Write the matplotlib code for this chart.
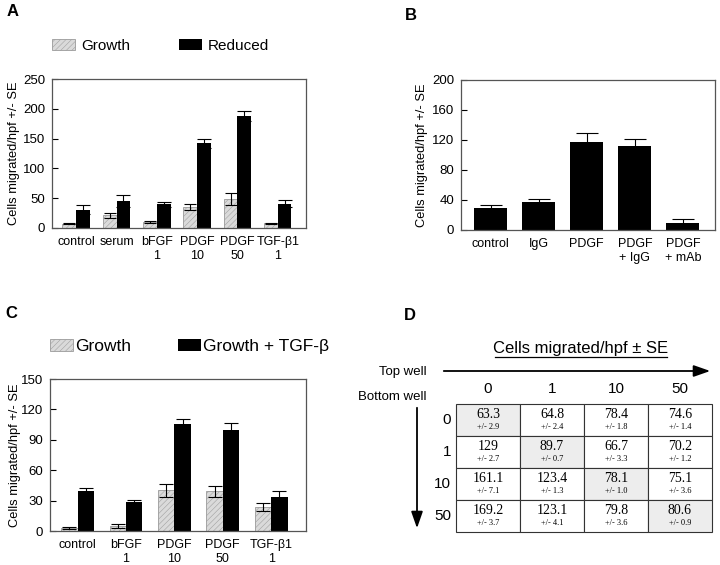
import numpy as np
import matplotlib
matplotlib.use('Agg')
import matplotlib.pyplot as plt
from matplotlib.patches import Rectangle
from matplotlib import font_manager

plt.rcParams['font.family'] = ['Liberation Sans', 'DejaVu Sans']

#data---panel A-----------------------------------------------------------------
a_labels = ['control', 'serum', 'bFGF\n1', 'PDGF\n10', 'PDGF\n50', 'TGF-β1\n1']
a_growth = [7, 21, 10, 36, 49, 8]
a_growth_err = [1, 4, 1, 5, 10, 1]
a_reduced = [31, 46, 40, 142, 188, 41]
a_reduced_err = [8, 10, 4, 8, 9, 6]

#data---panel B-----------------------------------------------------------------
b_labels = ['control', 'IgG', 'PDGF', 'PDGF\n+ IgG', 'PDGF\n+ mAb']
b_vals = [30, 37, 118, 112, 10]
b_err = [4, 5, 11, 10, 5]

#data---panel C-----------------------------------------------------------------
c_labels = ['control', 'bFGF\n1', 'PDGF\n10', 'PDGF\n50', 'TGF-β1\n1']
c_growth = [3, 5, 40, 39, 24]
c_growth_err = [1, 2, 6, 5, 4]
c_tgf = [39, 29, 106, 100, 34]
c_tgf_err = [3, 2, 5, 7, 5]

#data---panel D-----------------------------------------------------------------
d_wells = ['0', '1', '10', '50']
d_vals = [[63.3, 64.8, 78.4, 74.6],
          [129, 89.7, 66.7, 70.2],
          [161.1, 123.4, 78.1, 75.1],
          [169.2, 123.1, 79.8, 80.6]]
d_errs = [['2.9', '2.4', '1.8', '1.4'],
          ['2.7', '0.7', '3.3', '1.2'],
          ['7.1', '1.3', '1.0', '3.6'],
          ['3.7', '4.1', '3.6', '0.9']]

ylab = 'Cells migrated/hpf +/- SE'
# narrow font for the long y labels if there is one
names = {f.name for f in font_manager.fontManager.ttflist}
if 'Liberation Sans Narrow' in names:
    ylab_font = dict(family='Liberation Sans Narrow', fontsize=11)
else:
    ylab_font = dict(family='Liberation Sans', fontsize=9.3)

hatch_kw = dict(color='#dadada', hatch='//////', edgecolor='#9a9a9a', linewidth=0.6)
err_kw = dict(ecolor='black', elinewidth=0.8, capthick=0.8)
plt.rcParams['hatch.linewidth'] = 0.35

fig = plt.figure(figsize=(7.2, 5.65), dpi=100)

def style(ax, ymax, step, xlim):
    ax.set_xlim(*xlim)
    ax.set_ylim(0, ymax)
    ax.set_yticks(np.arange(0, ymax + 1, step))
    ax.tick_params(axis='y', direction='in', length=4, width=0.8, labelsize=9.5, pad=5)
    ax.tick_params(axis='x', length=0, labelsize=9, pad=6)
    for s in ax.spines.values():
        s.set_linewidth(0.9)
        s.set_color('#555555')
    ax.set_ylabel(ylab, **ylab_font)

#plot---A-----------------------------------------------------------------------
axA = fig.add_axes([52/720, 1-228/565, 254/720, 149/565])
x = np.arange(len(a_labels))
w = 0.34
hA1 = axA.bar(x - w/2, a_growth, w, yerr=a_growth_err, capsize=4, error_kw=err_kw, label='Growth', **hatch_kw)
hA2 = axA.bar(x + w/2, a_reduced, w, yerr=a_reduced_err, capsize=5, error_kw=err_kw, color='black', label='Reduced')
axA.set_xticks(x)
axA.set_xticklabels(a_labels)
style(axA, 250, 50, (-0.6, 5.7))
axA.yaxis.set_label_coords(-0.127, 0.5)
axA.legend(handles=[hA1, hA2], loc='center left', bbox_to_anchor=(0.0, 1.22), ncol=2, frameon=False,
           fontsize=11, handlelength=1.5, handleheight=0.75, handletextpad=0.4, columnspacing=3.2,
           borderpad=0, borderaxespad=0)
fig.text(7/720, 1-12/565, 'A', fontsize=12, fontweight='bold', va='center')

#plot---B-----------------------------------------------------------------------
axB = fig.add_axes([461/720, 1-230/565, 254/720, 150/565])
x = np.arange(len(b_labels))
axB.bar(x, b_vals, 0.69, yerr=b_err, capsize=8, error_kw=err_kw, color='black')
axB.set_xticks(x)
axB.set_xticklabels(b_labels)
style(axB, 200, 40, (-0.62, 4.67))
axB.yaxis.set_label_coords(-0.128, 0.5)
fig.text(405/720, 1-16/565, 'B', fontsize=12, fontweight='bold', va='center')

#plot---C-----------------------------------------------------------------------
axC = fig.add_axes([50/720, 1-531/565, 256/720, 152/565])
x = np.arange(len(c_labels))
hC1 = axC.bar(x - w/2, c_growth, w, yerr=c_growth_err, capsize=5, error_kw=err_kw, label='Growth', **hatch_kw)
hC2 = axC.bar(x + w/2, c_tgf, w, yerr=c_tgf_err, capsize=5, error_kw=err_kw, color='black', label='Growth + TGF-β')
axC.set_xticks(x)
axC.set_xticklabels(c_labels)
style(axC, 150, 30, (-0.57, 4.72))
axC.yaxis.set_label_coords(-0.115, 0.5)
axC.legend(handles=[hC1, hC2], loc='center left', bbox_to_anchor=(0.0, 1.215), ncol=2, frameon=False,
           fontsize=12.5, handlelength=1.3, handleheight=0.7, handletextpad=0.15, columnspacing=2.7,
           borderpad=0, borderaxespad=0)
fig.text(5/720, 1-313/565, 'C', fontsize=12, fontweight='bold', va='center')

#plot---D (table)---------------------------------------------------------------
axD = fig.add_axes([360/720, 0, 360/720, 290/565])
axD.set_xlim(360, 720)
axD.set_ylim(565, 275)
axD.axis('off')
fig.text(404/720, 1-316/565, 'D', fontsize=12, fontweight='bold', va='center')

axD.text(581, 348, 'Cells migrated/hpf ± SE', fontsize=12, ha='center', va='center')
axD.plot([495, 667], [356.5, 356.5], color='black', lw=0.9)
axD.annotate('', xy=(713, 371), xytext=(441, 371),
             arrowprops=dict(arrowstyle='-|>,head_length=1.0,head_width=0.35', color='black', lw=1.3))
axD.annotate('', xy=(417, 531), xytext=(417, 405),
             arrowprops=dict(arrowstyle='-|>,head_length=1.0,head_width=0.35', color='black', lw=1.3))
axD.text(427, 372, 'Top well', fontsize=9.5, ha='right', va='center')
axD.text(427, 397, 'Bottom well', fontsize=9.5, ha='right', va='center')

x0, y0, cw, rh = 456, 404, 64, 32
for j, lab in enumerate(d_wells):
    axD.text(x0 + cw*(j + 0.5), 389, lab, fontsize=11, ha='center', va='center')
for i, lab in enumerate(d_wells):
    axD.text(451, y0 + rh*(i + 0.5), lab, fontsize=11, ha='right', va='center')
    for j in range(len(d_wells)):
        fc = '#ededed' if i == j else 'white'
        axD.add_patch(Rectangle((x0 + cw*j, y0 + rh*i), cw, rh, facecolor=fc, edgecolor='#333333', lw=0.8))
        axD.text(x0 + cw*(j + 0.5), y0 + rh*i + 11, f'{d_vals[i][j]:g}', fontsize=10,
                 family='Liberation Serif', ha='center', va='center')
        axD.text(x0 + cw*(j + 0.5), y0 + rh*i + 23, f'+/- {d_errs[i][j]}', fontsize=6,
                 family='Liberation Serif', ha='center', va='center')

fig.savefig('out.png', dpi=100)
